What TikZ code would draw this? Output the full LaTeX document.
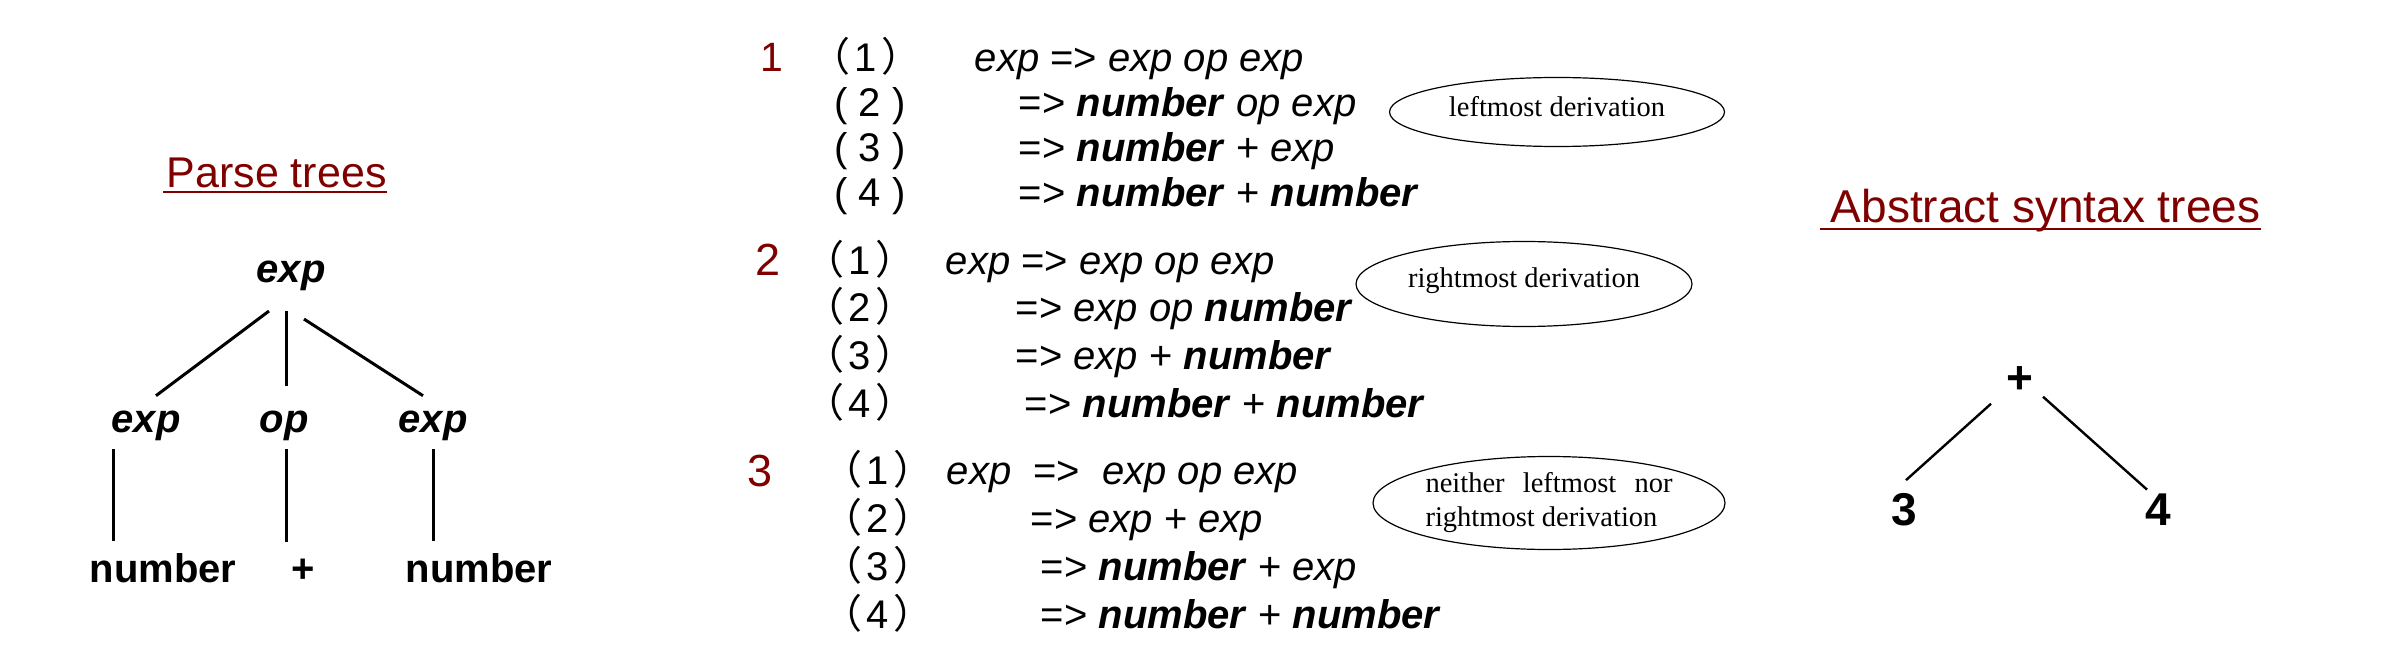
\documentclass[tikz,border=0pt]{standalone}
\usepackage{fontspec}
\setmainfont{Liberation Sans}
\newfontfamily\notefont{Liberation Serif}
\newfontfamily\cjkfont{Noto Sans CJK SC}
\usetikzlibrary{calc,shapes.geometric}

\newcommand{\nterm}[1]{\textit{#1}}
\newcommand{\tnum}[1]{\textbf{\textit{#1}}}
\newcommand{\fwp}[1]{{\cjkfont （}\hspace{2pt}#1\hspace{2pt}{\cjkfont ）}}

\tikzset{every picture/.style={line width=0.75pt}}
\tikzset{
	treenode/.style={anchor=base, inner sep=0pt, font=\fontsize{20}{24}\selectfont\bfseries},
	astnode/.style={anchor=base, inner sep=0pt, font=\fontsize{23}{28}\selectfont\bfseries},
	treeedge/.style={line width=1.5pt},
	astedge/.style={line width=1.2pt},
	titletext/.style={anchor=base west, inner sep=0pt, text={rgb, 255:red, 128; green, 0; blue, 0 }},
	titleline/.style={draw={rgb, 255:red, 128; green, 0; blue, 0 }, line width=1.1pt},
	blockno/.style={anchor=base, inner sep=0pt, text={rgb, 255:red, 128; green, 0; blue, 0 }},
	stepno/.style={anchor=base, inner sep=0pt, font=\fontsize{20}{24}\selectfont},
	derivtext/.style={anchor=base west, inner sep=0pt, font=\fontsize{20}{24}\selectfont},
	notebubble/.style={ellipse, draw, line width=0.6pt, inner sep=0pt, font=\notefont\fontsize{14.25}{17}\selectfont},
}

\begin{document}
\begin{tikzpicture}[x=0.5pt,y=0.5pt,yscale=-1,xscale=1]
		\useasboundingbox (0,0) rectangle (2402,668);
		
		%Parse tree
		\draw (166,188) node [titletext, font=\fontsize{21.5}{26}\selectfont] (ptitle) {Parse trees};
		\draw [titleline] ($(ptitle.base west)+(-3,4)$) -- ($(ptitle.base east)+(0,4)$);
		\draw (291,282) node [treenode] (root) {\textit{exp}};
		\draw (146,432) node [treenode] (lexp) {\textit{exp}};
		\draw (284,432) node [treenode] (op) {\textit{op}};
		\draw (433,432) node [treenode] (rexp) {\textit{exp}};
		\draw (163,582) node [treenode] (lnum) {number};
		\draw (303,582) node [treenode] (plus) {+};
		\draw (479,582) node [treenode] (rnum) {number};
		\draw [treeedge] ($(root.south)+(-22,20)$) -- ($(lexp.north)+(10,-14)$);
		\draw [treeedge] ($(root.south)+(-5,20)$) -- ($(op.north)+(2,-24)$);
		\draw [treeedge] ($(root.south)+(13,28)$) -- ($(rexp.north)+(-10,-14)$);
		\draw [treeedge] ($(lexp.south)+(-33,8)$) -- ($(lnum.north)+(-50,-11)$);
		\draw [treeedge] ($(op.south)+(2,8)$) -- ($(plus.north)+(-17,-16)$);
		\draw [treeedge] ($(rexp.south)+(0,8)$) -- ($(rnum.north)+(-46,-11)$);
		
		%Derivation 1
		\draw (772,72) node [blockno, font=\fontsize{20.5}{24}\selectfont] (blk1) {1};
		\draw (866,72) node [stepno] (s11) {\fwp{1}};
		\draw (870,117) node [stepno] (s12) {( 2 )};
		\draw (870,162) node [stepno] (s13) {( 3 )};
		\draw (870,207) node [stepno] (s14) {( 4 )};
		\draw (974,72) node [derivtext] (d11) {\nterm{exp} => \nterm{exp op exp}};
		\draw (1018,117) node [derivtext] (d12) {=> \tnum{number} \nterm{op exp}};
		\draw (1018,162) node [derivtext] (d13) {=> \tnum{number} + \nterm{exp}};
		\draw (1018,207) node [derivtext] (d14) {=> \tnum{number} + \tnum{number}};
		\draw (1557,112) node [notebubble, minimum width=167.5pt, minimum height=34.5pt, text depth=6pt] (note1) {leftmost derivation};
		
		%Derivation 2
		\draw (768,276) node [blockno, font=\fontsize{22.5}{27}\selectfont] (blk2) {2};
		\draw (860,274) node [stepno] (s21) {\fwp{1}};
		\draw (860,321) node [stepno] (s22) {\fwp{2}};
		\draw (860,369) node [stepno] (s23) {\fwp{3}};
		\draw (860,417) node [stepno] (s24) {\fwp{4}};
		\draw (945,274) node [derivtext] (d21) {\nterm{exp} => \nterm{exp op exp}};
		\draw (1015,321) node [derivtext] (d22) {=> \nterm{exp op} \tnum{number}};
		\draw (1015,369) node [derivtext] (d23) {=> \nterm{exp} + \tnum{number}};
		\draw (1024,417) node [derivtext] (d24) {=> \tnum{number} + \tnum{number}};
		\draw (1524,284) node [notebubble, minimum width=168pt, minimum height=42.5pt, text depth=6pt] (note2) {rightmost derivation};
		
		%Derivation 3
		\draw (760,486) node [blockno, font=\fontsize{22.5}{27}\selectfont] (blk3) {3};
		\draw (878,484) node [stepno] (s31) {\fwp{1}};
		\draw (878,532) node [stepno] (s32) {\fwp{2}};
		\draw (878,580) node [stepno] (s33) {\fwp{3}};
		\draw (878,628) node [stepno] (s34) {\fwp{4}};
		\draw (946,484) node [derivtext] (d31) {\nterm{exp}\ \ =>\ \ \nterm{exp op exp}};
		\draw (1030,532) node [derivtext] (d32) {=> \nterm{exp} + \nterm{exp}};
		\draw (1040,580) node [derivtext] (d33) {=> \tnum{number} + \nterm{exp}};
		\draw (1040,628) node [derivtext] (d34) {=> \tnum{number} + \tnum{number}};
		\draw (1549,503) node [notebubble, align=left, minimum width=176pt, minimum height=46.5pt] (note3) {\makebox[123.5pt][s]{neither leftmost nor}\\rightmost derivation};
		
		%Abstract syntax tree
		\draw (1830,223) node [titletext, font=\fontsize{23}{28}\selectfont] (atitle) {Abstract syntax trees};
		\draw [titleline] ($(atitle.base west)+(-10,6)$) -- ($(atitle.base east)+(0,6)$);
		\draw (2020,393) node [astnode] (astop) {+};
		\draw (1904,525) node [astnode] (astl) {3};
		\draw (2158,525) node [astnode] (astr) {4};
		\draw [astedge] ($(astop.south)+(-29,10)$) -- ($(astl.north)+(2,-12)$);
		\draw [astedge] ($(astop.south)+(23,3)$) -- ($(astr.north)+(-11,-3)$);
		
		
	\end{tikzpicture}
\end{document}
